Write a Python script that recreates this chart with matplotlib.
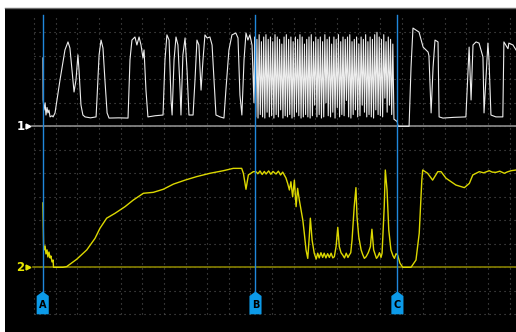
import numpy as np
import matplotlib.pyplot as plt
from matplotlib.patches import Polygon

# canal 1 (blanco) antes de la rafaga: tiempo (div) y tension (div)
t_ch1_a = [0.40, 0.41, 0.45, 0.50, 0.54, 0.59, 0.63, 0.68, 0.73, 0.82, 0.87, 0.96,
           1.19, 1.42, 1.56, 1.65, 1.79, 1.84, 1.93, 2.02, 2.07, 2.16, 2.25, 2.35,
           2.60, 2.86, 2.90, 3.00, 3.09, 3.18, 3.27, 3.37, 3.46, 3.90, 4.34, 4.43,
           4.52, 4.66, 4.75, 4.85, 4.94, 5.03, 5.08, 5.17, 5.26, 5.60, 5.96, 6.05,
           6.14, 6.24, 6.33, 6.38, 6.47, 6.56, 6.65, 6.75, 6.79, 6.88, 6.98, 7.07,
           7.16, 7.35, 7.44, 7.53, 7.62, 7.72, 7.81, 7.90, 8.00, 8.13, 8.23, 8.32,
           8.41, 8.60, 8.78, 8.87, 9.01, 9.15, 9.33, 9.43, 9.52, 9.61, 9.71, 9.80,
           9.89, 9.98, 10.08, 10.17]
v_ch1_a = [2.91, 1.12, 0.69, 1.00, 0.48, 0.80, 0.57, 0.69, 0.40, 0.45, 0.40, 0.57,
           1.97, 3.25, 3.59, 3.33, 1.97, 1.46, 1.97, 3.04, 2.40, 0.91, 0.48, 0.40,
           0.36, 0.40, 1.12, 3.04, 3.67, 3.33, 1.97, 0.57, 0.35, 0.36, 0.35, 2.83,
           3.67, 3.80, 3.46, 3.80, 3.46, 2.91, 3.25, 1.54, 0.40, 0.45, 0.48, 2.83,
           3.89, 3.67, 1.12, 0.48, 2.83, 3.80, 3.46, 1.54, 0.48, 3.04, 3.76, 2.40,
           0.48, 0.48, 1.97, 3.67, 3.46, 1.54, 2.83, 3.89, 3.76, 3.80, 3.46, 1.97,
           0.48, 0.40, 0.35, 1.54, 3.25, 3.89, 3.97, 3.76, 1.33, 0.48, 2.83, 3.97,
           3.67, 3.89, 3.46, 1.00]

# rafaga rapida entre B y C: picos y valles de cada ciclo
burst_peaks = [3.8, 3.7, 3.9, 3.6, 3.8, 3.9, 3.7, 3.8, 3.6, 3.9, 3.8, 3.7, 3.5,
               3.8, 3.9, 3.7, 3.8, 3.6, 3.8, 3.7, 3.9, 3.8, 3.5, 3.7, 3.8, 3.9,
               3.6, 3.8, 3.7, 3.8, 3.6, 3.9, 3.7, 3.8, 3.5, 3.8, 3.7, 3.9, 3.6,
               3.8, 3.7, 3.8, 3.9, 3.6, 3.7, 3.8, 3.5, 3.8, 3.7, 3.9, 3.6, 3.8,
               3.7, 3.9, 4.0, 3.8, 3.7, 3.9, 3.6, 3.8, 3.7, 3.5]
burst_troughs = [0.40, 0.35, 0.50, 0.40, 0.35, 0.60, 0.40, 0.45, 0.35, 0.50, 0.40,
                 0.70, 0.35, 0.45, 0.40, 0.50, 0.35, 0.40, 0.60, 0.45, 0.35, 0.40,
                 0.50, 0.40, 0.35, 0.45, 0.90, 0.40, 0.50, 0.35, 0.40, 1.00, 0.45,
                 0.40, 0.60, 0.35, 0.80, 0.40, 0.50, 0.45, 1.10, 0.40, 0.35, 0.50,
                 0.70, 0.40, 0.45, 0.90, 0.60, 0.40, 0.50, 0.40, 0.35, 0.70, 0.50,
                 0.45, 0.40, 1.20, 0.60, 0.90, 0.50, 0.30]
burst_start, burst_end = 10.20, 16.65

# canal 1 despues de la rafaga
t_ch1_b = [16.70, 16.80, 16.84, 17.35, 17.44, 17.53, 17.81, 18.00, 18.23, 18.27,
           18.37, 18.46, 18.55, 18.69, 18.74, 18.92, 19.40, 19.98, 20.13, 20.22,
           20.31, 20.45, 20.59, 20.77, 20.82, 21.00, 21.05, 21.14, 21.37, 21.69,
           21.74, 21.93, 21.97, 22.16, 22.30]
v_ch1_b = [0.27, 0.20, 0.00, 0.00, 2.50, 4.18, 4.01, 3.37, 3.16, 3.00,
           0.57, 2.50, 3.67, 3.59, 0.40, 0.35, 0.38, 0.40, 3.37, 1.12,
           3.46, 3.59, 3.54, 2.95, 0.57, 3.54, 2.83, 0.48, 0.40, 0.40,
           3.59, 3.30, 3.54, 3.46, 3.25]

# canal 2 (amarillo)
t_ch2 = [0.40, 0.43, 0.45, 0.50, 0.54, 0.59, 0.63, 0.68, 0.73, 0.77, 0.82, 0.87,
         0.89, 1.33, 1.50, 1.96, 2.43, 2.81, 3.04, 3.35, 3.74, 4.20, 4.58, 5.05,
         5.51, 5.97, 6.44, 6.98, 7.52, 8.13, 8.75, 9.21, 9.60, 9.68, 9.80, 9.91,
         10.14, 10.26, 10.35, 10.45, 10.55, 10.65, 10.73, 10.85, 10.95, 11.05,
         11.19, 11.30, 11.40, 11.50, 11.57, 11.65, 11.73, 11.81, 11.88, 11.96,
         12.04, 12.12, 12.19, 12.27, 12.35, 12.43, 12.50, 12.58, 12.66, 12.73,
         12.78, 12.86, 12.96, 13.05, 13.12, 13.19, 13.27, 13.35, 13.42, 13.50,
         13.58, 13.66, 13.74, 13.82, 13.89, 13.97, 14.05, 14.12, 14.20, 14.28,
         14.36, 14.44, 14.52, 14.58, 14.65, 14.71, 14.81, 14.89, 14.94, 15.02,
         15.13, 15.20, 15.28, 15.36, 15.46, 15.56, 15.63, 15.71, 15.78, 15.84,
         15.90, 15.98, 16.05, 16.10, 16.20, 16.25, 16.33, 16.41, 16.51, 16.60,
         16.67, 16.75, 16.82, 16.93, 17.06, 17.44, 17.67, 17.82, 17.94, 17.98,
         18.21, 18.44, 18.68, 18.83, 19.06, 19.52, 19.91, 20.14, 20.30, 20.60,
         20.80, 21.06, 21.20, 21.37, 21.55, 21.76, 21.90, 22.07, 22.30]
v_ch2 = [2.74, 0.95, 0.74, 0.91, 0.57, 0.74, 0.44, 0.65, 0.40, 0.48, 0.23, 0.31,
         0.00, 0.00, 0.03, 0.34, 0.74, 1.23, 1.66, 2.09, 2.30, 2.58, 2.86, 3.15,
         3.19, 3.32, 3.54, 3.71, 3.86, 4.00, 4.11, 4.21, 4.21, 4.00, 3.32, 3.93,
         4.07, 4.07, 3.98, 4.10, 3.95, 4.08, 3.97, 4.10, 3.96, 4.08,
         3.97, 4.09, 3.93, 4.05, 3.93, 3.80, 3.57, 3.29, 3.64, 3.00,
         3.71, 2.58, 3.36, 2.86, 2.44, 2.01, 1.45, 0.74, 0.38, 1.30,
         2.09, 1.16, 0.60, 0.35, 0.60, 0.40, 0.62, 0.42, 0.60, 0.40,
         0.58, 0.42, 0.60, 0.40, 0.45, 0.88, 1.70, 0.88, 0.62, 0.52,
         0.40, 0.60, 0.42, 0.52, 0.62, 1.16, 2.58, 3.39, 2.15, 1.30,
         0.74, 0.55, 0.38, 0.45, 0.62, 0.88, 1.62, 0.74, 0.55, 0.38,
         0.45, 0.62, 0.42, 0.60, 2.58, 4.14, 3.29, 1.59, 0.74, 0.50,
         0.38, 0.58, 0.52, 0.17, 0.00, 0.00, 0.31, 1.45, 3.71, 4.14,
         4.00, 3.71, 4.07, 4.07, 3.79, 3.50, 3.39, 3.57, 3.93, 4.07,
         4.02, 4.11, 4.05, 4.04, 4.09, 4.00, 4.06, 4.11, 4.14]

cursor_t = [0.39, 10.24, 16.81]
cursor_names = ['A', 'B', 'C']
ch1_offset = 6.0   # divisiones entre referencia del canal 2 y del canal 1

# armar la traza completa del canal 1
n = len(burst_peaks)
t_burst = np.linspace(burst_start, burst_end, 2 * n)
v_burst = np.empty(2 * n)
v_burst[0::2] = burst_peaks
v_burst[1::2] = burst_troughs
t_ch1 = np.concatenate([t_ch1_a, t_burst, t_ch1_b])
v_ch1 = np.concatenate([v_ch1_a, v_burst, v_ch1_b])

fig = plt.figure(figsize=(5.16, 3.32), dpi=100, facecolor='white')
ax = fig.add_axes([5 / 516, 0, 511 / 516, 324 / 332])
ax.set_facecolor('black')
ax.set_xlim(-1.356, 22.30)
ax.set_ylim(-2.753, 11.034)
ax.set_xticks([])
ax.set_yticks([])
for s in ['left', 'right', 'bottom']:
    ax.spines[s].set_visible(False)
ax.spines['top'].set_color('#6e6e6e')
ax.spines['top'].set_linewidth(1.0)

# reticula punteada
grid_kw = dict(color='#585858', lw=0.8, ls=(0, (1, 3.5)), zorder=1)
for k in range(0, 23):
    ax.plot([k, k], [-2, 10.7], **grid_kw)
for k in range(-2, 11):
    ax.plot([0, 22.3], [k, k], **grid_kw)

# referencias de cada canal
ax.plot([-0.1, 22.3], [ch1_offset, ch1_offset], color='#8c8c8c', lw=1.2, zorder=2)
ax.plot([-0.05, 22.3], [0, 0], color='#857f00', lw=1.2, zorder=2)
ax.text(-0.62, ch1_offset, '1', color='white', fontsize=8.5, fontweight='bold',
        ha='center', va='center', zorder=5)
ax.plot([-0.28], [ch1_offset], marker='>', color='white', ms=3.5, zorder=5)
ax.text(-0.66, 0, '2', color='#e6e600', fontsize=8.5, fontweight='bold',
        ha='center', va='center', zorder=5)
ax.plot([-0.30], [0], marker='>', color='#e6e600', ms=3.5, zorder=5)

# trazas
ax.plot(t_ch2, v_ch2, color='#dcd800', lw=1.0, zorder=3)
ax.plot(t_ch1, v_ch1 + ch1_offset, color='#ececec', lw=0.8, zorder=3)

# cursores A, B, C
for tc, name in zip(cursor_t, cursor_names):
    ax.plot([tc, tc], [-1.05, 10.74], color='#2088dc', lw=1.0, zorder=4)
    tag = Polygon([[tc, -1.03], [tc + 0.28, -1.22], [tc + 0.28, -2.0],
                   [tc - 0.28, -2.0], [tc - 0.28, -1.22]],
                  closed=True, facecolor='#0c9ae8', edgecolor='none', zorder=5)
    ax.add_patch(tag)
    ax.text(tc, -1.62, name, color='black', fontsize=7, fontweight='bold',
            ha='center', va='center', zorder=6)

fig.savefig('out.png', dpi=100, facecolor=fig.get_facecolor())
